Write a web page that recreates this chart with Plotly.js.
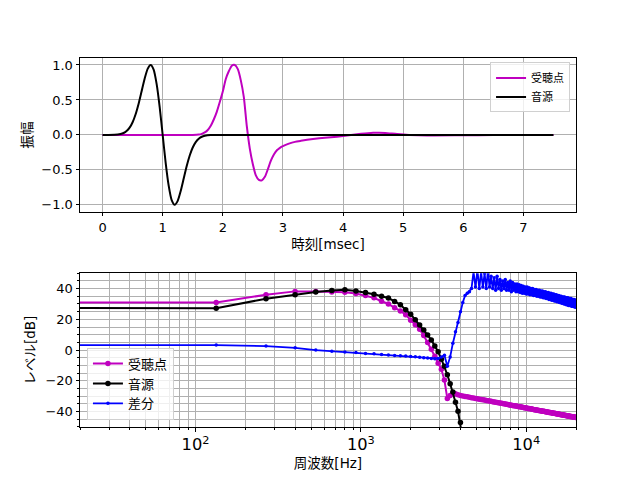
<!DOCTYPE html>
<html>
<head>
<meta charset="utf-8">
<script src="https://cdn.plot.ly/plotly-3.0.1.min.js"></script>
<style>
  body { margin: 0; background: white; }
  #chart { width: 640px; height: 480px; }
</style>
</head>
<body>
<div id="chart"></div>
<script>
// 時間波形 (msec)
const timeSrc = [0, 0.2, 0.3, 0.35, 0.4, 0.45, 0.5, 0.55, 0.6, 0.65, 0.7, 0.75, 0.8, 0.85, 0.9, 0.95,
    1.0, 1.05, 1.1, 1.15, 1.2, 1.25, 1.3, 1.35, 1.4, 1.45, 1.5, 1.55, 1.6, 1.65, 1.7, 1.8, 2.0, 7.5];
const ampSrc = [0, 0.001, 0.013, 0.027, 0.055, 0.103, 0.181, 0.295, 0.446, 0.624, 0.803, 0.944, 1.0, 0.934, 0.727, 0.4,
    0, -0.4, -0.727, -0.934, -1.0, -0.944, -0.803, -0.624, -0.446, -0.295, -0.181, -0.103, -0.055, -0.027, -0.013, -0.002, 0, 0];

const timeRcv = [0, 1.5, 1.6, 1.65, 1.7, 1.75, 1.8, 1.85, 1.9, 1.95, 2.0, 2.05, 2.1, 2.15, 2.2, 2.25, 2.3, 2.35,
    2.4, 2.45, 2.5, 2.55, 2.6, 2.65, 2.7, 2.75, 2.8, 2.85, 2.9, 2.95, 3.0, 3.1, 3.2, 3.3, 3.5, 3.7, 3.9,
    4.1, 4.3, 4.5, 4.6, 4.7, 4.9, 5.1, 5.4, 6.0, 6.5, 7.0, 7.5];
const ampRcv = [0, 0, 0.005, 0.015, 0.035, 0.07, 0.13, 0.22, 0.33, 0.47, 0.62, 0.8, 0.91, 0.99, 1.0, 0.94, 0.78, 0.54,
    0.12, -0.2, -0.42, -0.58, -0.645, -0.65, -0.6, -0.49, -0.37, -0.28, -0.22, -0.185, -0.16, -0.125, -0.1, -0.085, -0.06, -0.04, -0.025,
    -0.005, 0.015, 0.03, 0.032, 0.028, 0.012, 0, -0.008, -0.005, -0.002, 0, 0];

// 周波数 (Hz)  先頭は直流成分の代わり (対数軸の左外)
const freqs = [1,
    133.3, 266.7, 400, 533.3, 666.7, 800, 933.3, 1066.7, 1200, 1333.3,
    1466.7, 1600, 1733.3, 1866.7, 2000, 2133.3, 2266.7, 2400, 2533.3, 2666.7,
    2800, 2933.3, 3066.7, 3200, 3333.3, 3466.7, 3600, 3733.3, 3866.7, 4000,
    4133, 4267, 4400, 4533, 4667, 4800, 4933, 5067, 5200, 5333,
    5467, 5600, 5733, 5867, 6000, 6133, 6267, 6400, 6533, 6667,
    6800, 6933, 7067, 7200, 7333, 7467, 7600, 7733, 7867, 8000,
    8133, 8267, 8400, 8533, 8667, 8800, 8933, 9067, 9200, 9333,
    9467, 9600, 9733, 9867, 10000, 10133, 10267, 10400, 10533, 10667,
    10800, 10933, 11067, 11200, 11333, 11467, 11600, 11733, 11867, 12000,
    12133, 12267, 12400, 12533, 12667, 12800, 12933, 13067, 13200, 13333,
    13467, 13600, 13733, 13867, 14000, 14133, 14267, 14400, 14533, 14667,
    14800, 14933, 15067, 15200, 15333, 15467, 15600, 15733, 15867, 16000,
    16133, 16267, 16400, 16533, 16667, 16800, 16933, 17067, 17200, 17333,
    17467, 17600, 17733, 17867, 18000, 18133, 18267, 18400, 18533, 18667,
    18800, 18933, 19067, 19200, 19333, 19467, 19600, 19733, 19867, 20000, 20133];

const levelRcv = [31,
    31, 36, 38.2, 38.2, 37.8, 37.6, 36.8, 35.5, 34, 31.8,
    30, 27.5, 25.5, 23, 19.5, 16.5, 13.5, 9.5, 5, 0.5,
    -4, -8.5, -12.5, -19.5, -31.5, -29.5, -28, -28.4, -29, -29.5,
    -29.8, -30.1, -30.4, -30.6, -30.9, -31.2, -31.4, -31.6, -31.9, -32.1,
    -32.3, -32.5, -32.7, -32.9, -33.1, -33.3, -33.5, -33.7, -33.9, -34.1,
    -34.2, -34.4, -34.6, -34.7, -34.9, -35.1, -35.2, -35.4, -35.5, -35.7,
    -35.8, -36.0, -36.1, -36.2, -36.4, -36.5, -36.7, -36.8, -36.9, -37.0,
    -37.2, -37.3, -37.4, -37.5, -37.7, -37.8, -37.9, -38.0, -38.1, -38.2,
    -38.3, -38.4, -38.6, -38.7, -38.8, -38.9, -39.0, -39.1, -39.2, -39.3,
    -39.4, -39.5, -39.6, -39.7, -39.7, -39.8, -39.9, -40.0, -40.1, -40.2,
    -40.3, -40.4, -40.5, -40.5, -40.6, -40.7, -40.8, -40.9, -41.0, -41.0,
    -41.1, -41.2, -41.3, -41.4, -41.4, -41.5, -41.6, -41.7, -41.7, -41.8,
    -41.9, -42.0, -42.0, -42.1, -42.2, -42.2, -42.3, -42.4, -42.5, -42.5,
    -42.6, -42.7, -42.7, -42.8, -42.9, -42.9, -43.0, -43.1, -43.1, -43.2,
    -43.2, -43.3, -43.4, -43.4, -43.5, -43.6, -43.6, -43.7, -43.7, -43.8, -43.9];

const levelSrc = [27.5,
    27.3, 33.4, 36, 37.8, 38.7, 39.3, 38.5, 37.4, 36.4, 35,
    33.9, 31.7, 29.5, 26.2, 23.4, 19.7, 16.4, 13.1, 9.8, 6.6,
    2.6, -1.1, -5.9, -10.5, -16, -21.9, -27.3, -33.9, -39.8, -47,
    -58, -68];

const levelDiff = [3.3,
    3.3, 2.6, 1.5, 0, -0.7, -1.3, -1.5, -2.2, -2.4, -2.8,
    -3.2, -3.5, -3.7, -3.9, -4.1, -4.3, -4.6, -4.9, -5.1, -5.4,
    -5.6, -5.4, -4.5, -3.3, -10.5, -4.4, 4.5, 12, 18, 25,
    31, 35.5, 37, 38, 40, 51, 41, 52, 40, 51,
    41, 50, 40, 52, 41, 48, 40, 47, 39, 48,
    40, 46, 39, 45, 40, 46, 39, 44, 39, 45,
    38, 44, 39, 43, 38, 43, 38, 42.5, 37.5, 42,
    37, 41.5, 37, 41, 36.5, 41, 36.5, 40.5, 36, 40,
    36, 40, 35.5, 39.5, 35.5, 39.5, 35, 39, 35, 39,
    34.5, 38.5, 34.5, 38.5, 34, 38, 34, 38, 33.5, 37.5,
    33.5, 37.5, 33, 37, 33, 37, 32.5, 36.5, 32.5, 36.5,
    32, 36, 32, 36, 31.5, 35.5, 31.5, 35.5, 31, 35,
    31, 35, 30.5, 34.5, 30.5, 34.5, 30, 34.5, 30, 34,
    29.5, 34, 29.5, 34, 29, 33.5, 29, 33.5, 29, 33.5,
    28.5, 33, 28.5, 33, 28.5, 33, 28, 32.5, 28, 32.5, 28];

// 英数字は DejaVu、和文は Noto CJK にフォールバック
const FONT = '"DejaVu Sans", "Noto Sans CJK JP", sans-serif';
const MAGENTA = '#bf00bf';

const axisStyle = {
    showline: true, linecolor: 'black', linewidth: 1, mirror: true,
    ticks: 'outside', ticklen: 3.5, tickwidth: 1, tickcolor: 'black',
    showgrid: true, gridcolor: '#b0b0b0', gridwidth: 1, zeroline: false,
    tickfont: {family: FONT, size: 13, color: 'black'}
};

const data = [
    {
        x: timeRcv, y: ampRcv, xaxis: 'x', yaxis: 'y', mode: 'lines', name: '受聴点',
        line: {color: MAGENTA, width: 2, shape: 'spline', smoothing: 0.6}, legend: 'legend'
    },
    {
        x: timeSrc, y: ampSrc, xaxis: 'x', yaxis: 'y', mode: 'lines', name: '音源',
        line: {color: 'black', width: 2, shape: 'spline', smoothing: 0.6}, legend: 'legend'
    },
    {
        x: freqs.slice(0, levelRcv.length), y: levelRcv, xaxis: 'x2', yaxis: 'y2', mode: 'lines+markers', name: '受聴点',
        line: {color: MAGENTA, width: 2}, marker: {color: MAGENTA, size: 5.5}, legend: 'legend2'
    },
    {
        x: freqs.slice(0, levelSrc.length), y: levelSrc, xaxis: 'x2', yaxis: 'y2', mode: 'lines+markers', name: '音源',
        line: {color: 'black', width: 2}, marker: {color: 'black', size: 5.5}, legend: 'legend2'
    },
    {
        x: freqs.slice(0, levelDiff.length), y: levelDiff, xaxis: 'x2', yaxis: 'y2', mode: 'lines+markers', name: '差分',
        line: {color: '#0000ff', width: 1.8}, marker: {color: '#0000ff', size: 3.5}, legend: 'legend2'
    }
];

const legendStyle = {
    bgcolor: 'rgba(255,255,255,0.8)', bordercolor: '#d0d0d0', borderwidth: 1,
    tracegroupgap: 0
};

const layout = {
    width: 640, height: 480,
    margin: {l: 80, r: 64, t: 58, b: 53},
    paper_bgcolor: 'white', plot_bgcolor: 'white',
    font: {family: FONT, size: 13, color: 'black'},
    showlegend: true,
    xaxis: Object.assign({}, axisStyle, {
        anchor: 'y', domain: [0, 1], range: [-0.375, 7.875], dtick: 1, tick0: 0,
        title: {text: '時刻[msec]', standoff: 5, font: {family: FONT, size: 13.5}}
    }),
    yaxis: Object.assign({}, axisStyle, {
        anchor: 'x', domain: [0.5833, 1], range: [-1.1, 1.1], dtick: 0.5, tick0: 0, tickformat: '.1f',
        title: {text: '振幅', standoff: 5, font: {family: FONT, size: 13.5}}
    }),
    xaxis2: Object.assign({}, axisStyle, {
        anchor: 'y2', type: 'log', range: [Math.log10(20), Math.log10(20000)], dtick: 1,
        exponentformat: 'power',
        minor: {dtick: 'D1', showgrid: true, gridcolor: '#b0b0b0', gridwidth: 1, ticks: 'outside', ticklen: 2, tickcolor: 'black'},
        title: {text: '周波数[Hz]', standoff: 5, font: {family: FONT, size: 13.5}}
    }),
    yaxis2: Object.assign({}, axisStyle, {
        anchor: 'x2', domain: [0, 0.4167], range: [-50, 50], dtick: 20, tick0: 0,
        minor: {dtick: 5, showgrid: true, gridcolor: '#b0b0b0', gridwidth: 1, ticks: 'outside', ticklen: 2, tickcolor: 'black'},
        title: {text: 'レベル[dB]', standoff: 6, font: {family: FONT, size: 13.5}}
    }),
    legend: Object.assign({}, legendStyle, {
        x: 0.988, y: 0.988, xanchor: 'right', yanchor: 'top',
        font: {family: FONT, size: 11, color: 'black'}
    }),
    legend2: Object.assign({}, legendStyle, {
        x: 0.014, y: 0.02, xanchor: 'left', yanchor: 'bottom',
        font: {family: FONT, size: 13, color: 'black'}
    })
};

Plotly.newPlot('chart', data, layout, {displayModeBar: false, staticPlot: true});
</script>
</body>
</html>
